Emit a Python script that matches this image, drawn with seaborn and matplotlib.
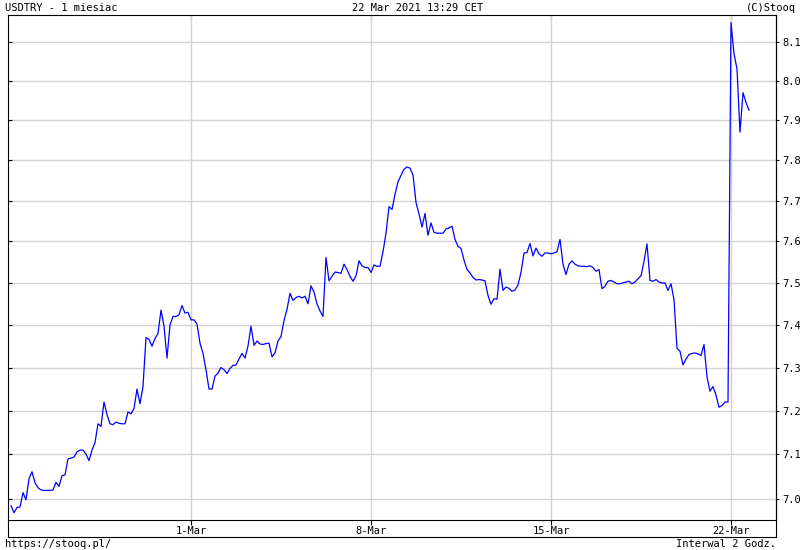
import numpy as np
import pandas as pd
import matplotlib
matplotlib.use("Agg")
import matplotlib.pyplot as plt
from matplotlib.ticker import FixedLocator, NullLocator, FixedFormatter
from matplotlib.lines import Line2D
import seaborn as sns

# ---- data (USDTRY, 2-hour bars, weekends skipped) ----
values = [
    6.985, 6.969, 6.981, 6.982, 7.014, 6.998, 7.045, 7.061, 7.036, 7.025,
    7.020, 7.019, 7.019, 7.019, 7.020, 7.037, 7.028, 7.052, 7.054, 7.090,
    7.092, 7.094, 7.106, 7.110, 7.110, 7.101, 7.086, 7.110, 7.127, 7.170,
    7.164, 7.220, 7.191, 7.170, 7.168, 7.174, 7.171, 7.170, 7.170, 7.197,
    7.193, 7.205, 7.250, 7.216, 7.256, 7.370, 7.366, 7.350, 7.368, 7.380,
    7.435, 7.397, 7.322, 7.400, 7.420, 7.420, 7.424, 7.446, 7.428, 7.430,
    7.412, 7.412, 7.402, 7.357, 7.333, 7.295, 7.250, 7.250, 7.280, 7.287,
    7.300, 7.295, 7.286, 7.298, 7.305, 7.306, 7.320, 7.333, 7.322, 7.350,
    7.397, 7.352, 7.362, 7.355, 7.354, 7.356, 7.357, 7.325, 7.334, 7.362,
    7.373, 7.410, 7.437, 7.475, 7.458, 7.465, 7.468, 7.464, 7.468, 7.450,
    7.493, 7.478, 7.450, 7.433, 7.420, 7.561, 7.505, 7.516, 7.526, 7.525,
    7.523, 7.545, 7.532, 7.516, 7.504, 7.517, 7.553, 7.541, 7.537, 7.537,
    7.525, 7.543, 7.540, 7.540, 7.575, 7.620, 7.685, 7.678, 7.715, 7.746,
    7.762, 7.777, 7.783, 7.780, 7.763, 7.695, 7.667, 7.635, 7.668, 7.615,
    7.645, 7.622, 7.620, 7.620, 7.620, 7.630, 7.633, 7.637, 7.605, 7.588,
    7.583, 7.555, 7.532, 7.524, 7.513, 7.507, 7.508, 7.507, 7.505, 7.470,
    7.449, 7.462, 7.461, 7.533, 7.482, 7.490, 7.487, 7.480, 7.483, 7.495,
    7.525, 7.572, 7.573, 7.595, 7.565, 7.584, 7.570, 7.564, 7.572, 7.572,
    7.570, 7.572, 7.575, 7.605, 7.545, 7.520, 7.545, 7.553, 7.545, 7.541,
    7.540, 7.540, 7.539, 7.541, 7.537, 7.528, 7.532, 7.486, 7.492, 7.504,
    7.506, 7.502, 7.498, 7.498, 7.500, 7.502, 7.504, 7.498, 7.502, 7.510,
    7.517, 7.552, 7.594, 7.506, 7.504, 7.508, 7.502, 7.500, 7.500, 7.482,
    7.498, 7.460, 7.345, 7.338, 7.306, 7.320, 7.330, 7.333, 7.334, 7.332,
    7.328, 7.354, 7.278, 7.245, 7.256, 7.236, 7.208, 7.212, 7.220, 7.220,
    8.150, 8.070, 8.030, 7.870, 7.970, 7.945, 7.925,
]
bars = np.arange(len(values))

x_tick_bars = [60, 120, 180, 240]
x_tick_labels = ["1-Mar", "8-Mar", "15-Mar", "22-Mar"]
y_ticks = [7.0, 7.1, 7.2, 7.3, 7.4, 7.5, 7.6, 7.7, 7.8, 7.9, 8.0, 8.1]
y_tick_labels = ["7.0", "7.1", "7.2", "7.3", "7.4", "7.5", "7.6", "7.7", "7.8", "7.9", "8.0", "8.1"]

title_left = "USDTRY - 1 miesiac"
title_center = "22 Mar 2021 13:29 CET"
title_right = "(C)Stooq"
footer_left = "https://stooq.pl/"
footer_right = "Interwal 2 Godz."

df = pd.DataFrame({"bar": bars, "close": values})

# ---- style ----
sns.set_theme(style="white")
plt.rcParams["font.family"] = ["DejaVu Sans Mono"]
FS = 7.5

W, H = 800, 550
fig = plt.figure(figsize=(W / 100, H / 100), dpi=100)
fig.patch.set_facecolor("white")

L, R, T, B = 8, 776, 15, 520
ax = fig.add_axes([L / W, 1 - B / H, (R - L) / W, (B - T) / H])
ax.set_facecolor("white")

sns.lineplot(data=df, x="bar", y="close", ax=ax, color="#0000ff",
             linewidth=0.9, legend=False)

ax.set_yscale("log")
ax.set_xlim(-1, 255)
ax.set_ylim(6.953, 8.170)
ax.set_xlabel("")
ax.set_ylabel("")

ax.yaxis.set_major_locator(FixedLocator(y_ticks))
ax.yaxis.set_minor_locator(NullLocator())
ax.xaxis.set_major_locator(FixedLocator(x_tick_bars))
ax.xaxis.set_major_formatter(FixedFormatter(x_tick_labels))

ax.grid(True, color="#d3d3d3", linewidth=1.0)
ax.set_axisbelow(True)

for s in ax.spines.values():
    s.set_color("black")
    s.set_linewidth(0.8)
    s.set_visible(True)

ax.tick_params(axis="y", which="both", left=True, right=False, labelleft=False,
               labelright=False, direction="in", length=3, width=0.8, color="black")
ax.tick_params(axis="x", which="both", bottom=True, top=False, direction="out",
               length=3.5, width=0.8, color="black", labelsize=FS, pad=1.0,
               labelcolor="black")

# right-hand price axis
sec = ax.secondary_yaxis("right", functions=(lambda v: v, lambda v: v))
sec.yaxis.set_major_locator(FixedLocator(y_ticks))
sec.yaxis.set_major_formatter(FixedFormatter(y_tick_labels))
sec.yaxis.set_minor_locator(NullLocator())
sec.tick_params(axis="y", direction="inout", length=5, width=0.8, color="black",
                labelsize=FS, pad=2, labelcolor="black")
sec.spines["right"].set_color("black")
sec.spines["right"].set_linewidth(0.8)

# top inner ticks
top = ax.secondary_xaxis("top")
top.xaxis.set_major_locator(FixedLocator(x_tick_bars))
top.tick_params(axis="x", direction="in", length=3.5, width=0.8, color="black",
                labeltop=False)
top.spines["top"].set_visible(False)

# date strip frame below the plot
def fx(px):
    return px / W

def fy(py):
    return 1 - py / H

for (x0, y0, x1, y1) in [(L, 537, R, 537), (L, B, L, 537), (R, B, R, 537)]:
    fig.add_artist(Line2D([fx(x0), fx(x1)], [fy(y0), fy(y1)], color="black",
                          linewidth=0.8, transform=fig.transFigure))

# header / footer texts
fig.text(fx(5), fy(8), title_left, ha="left", va="center", fontsize=FS, color="black")
fig.text(fx(418), fy(8), title_center, ha="center", va="center", fontsize=FS, color="black")
fig.text(fx(796), fy(8), title_right, ha="right", va="center", fontsize=FS, color="black")
fig.text(fx(5), fy(544), footer_left, ha="left", va="center", fontsize=FS, color="black")
fig.text(fx(776), fy(544), footer_right, ha="right", va="center", fontsize=FS, color="black")

fig.savefig("out.png", dpi=100, facecolor="white")
